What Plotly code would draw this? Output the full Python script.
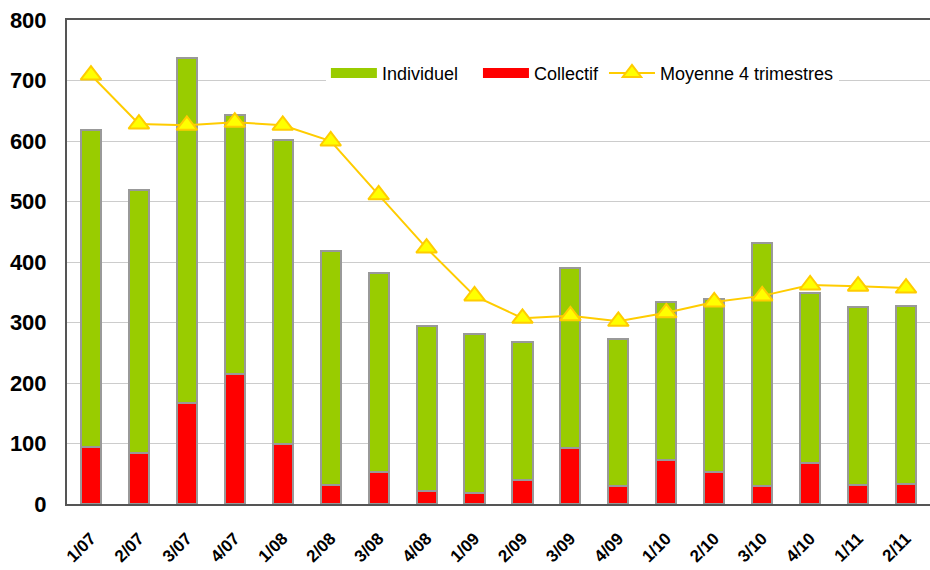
import plotly.graph_objects as go

categories = ["1/07", "2/07", "3/07", "4/07", "1/08", "2/08", "3/08", "4/08", "1/09",
              "2/09", "3/09", "4/09", "1/10", "2/10", "3/10", "4/10", "1/11", "2/11"]
totals = [618, 519, 737, 643, 602, 418, 382, 294, 281, 268, 390, 273, 334, 339, 432, 349, 326, 327]
collectif = [94, 84, 167, 215, 99, 31, 53, 21, 18, 40, 93, 30, 73, 53, 30, 68, 31, 33]
individuel = [t - c for t, c in zip(totals, collectif)]
moyenne = [709, 628, 626, 631, 626, 600, 511, 423, 344, 307, 311, 302, 316, 334, 344, 362, 360, 357]

GREEN = "#99CC00"
RED = "#FF0000"
GREY = "#999999"

fig = go.Figure()
fig.add_trace(go.Bar(x=categories, y=collectif, name="Collectif", showlegend=False,
                     marker=dict(color=RED, line=dict(color=GREY, width=2))))
fig.add_trace(go.Bar(x=categories, y=individuel, name="Individuel", showlegend=False,
                     marker=dict(color=GREEN, line=dict(color=GREY, width=2))))
fig.add_trace(go.Scatter(x=categories, y=moyenne, name="Moyenne 4 trimestres", legendrank=3,
                         mode="lines+markers",
                         line=dict(color="#FFCC00", width=2),
                         marker=dict(symbol="triangle-up", size=18, color="#FFFF00",
                                     line=dict(color="#FFCC00", width=2))))
# legend-only entries with wide rectangular swatches
fig.add_trace(go.Scatter(x=[None], y=[None], mode="lines", name="Individuel\u00a0\u00a0\u00a0",
                         legendrank=1, line=dict(color=GREEN, width=10)))
fig.add_trace(go.Scatter(x=[None], y=[None], mode="lines", name="Collectif", legendrank=2,
                         line=dict(color=RED, width=10)))

fig.update_layout(
    width=930, height=570,
    barmode="stack", bargap=0.58,
    margin=dict(l=67, r=0, t=20, b=66),
    paper_bgcolor="white", plot_bgcolor="white",
    font=dict(family="Liberation Sans, Arial, sans-serif", color="black"),
    legend=dict(orientation="h", x=0.30, y=0.89, xanchor="left", yanchor="middle",
                bgcolor="white", font=dict(size=18), itemwidth=46,
                traceorder="normal", tracegroupgap=0),
    showlegend=True,
)
fig.update_yaxes(range=[0, 800], dtick=100, showgrid=True, gridcolor="#CCCCCC", gridwidth=1,
                 showline=True, linecolor="#555555", linewidth=2, automargin=False,
                 tickfont=dict(size=22, family="Liberation Sans, Arial, sans-serif", weight="bold"),
                 ticklabelstandoff=14, zeroline=False)
fig.update_xaxes(range=[-0.5, len(categories) - 0.5],
                 showline=True, linecolor="#555555", linewidth=2, mirror=True,
                 tickangle=-45, automargin=False,
                 tickfont=dict(size=17, family="Liberation Sans, Arial, sans-serif", weight="bold"),
                 ticklabelstandoff=16)

fig.write_html("out.html", config={"displayModeBar": False},
               post_script="document.body.style.margin='0';document.body.style.overflow='hidden';")
